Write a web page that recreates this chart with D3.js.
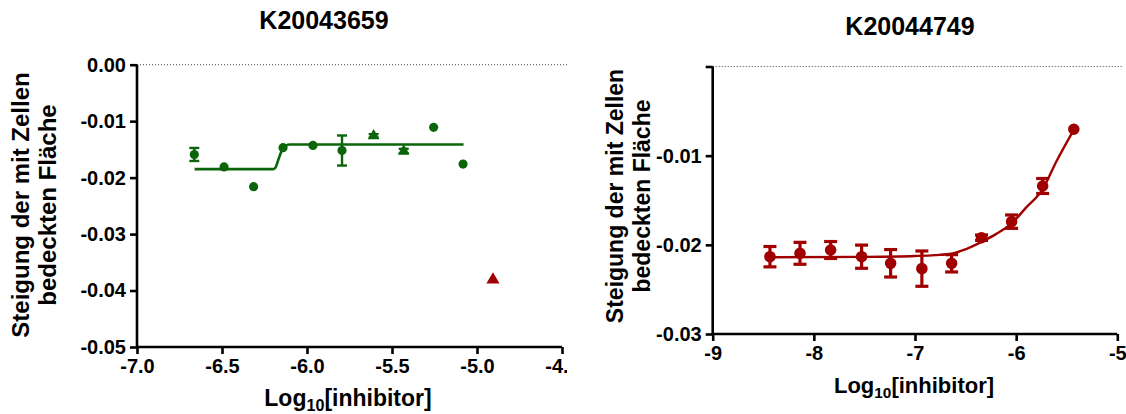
<!DOCTYPE html>
<html>
<head>
<meta charset="utf-8">
<script src="https://cdn.jsdelivr.net/npm/d3@7"></script>
<style>
  body { margin: 0; background: #fff; }
  svg { display: block; }
  text { font-family: Arial, "Liberation Sans", sans-serif; font-weight: bold; fill: #000; }
</style>
</head>
<body>
<div id="chart"></div>
<script>
// ---- data ----
// K20043659 (left)
const leftCircleX = [-6.663, -6.488, -6.314, -6.141, -5.965, -5.794, -5.255, -5.082];
const leftCircleY = [-0.0159, -0.0181, -0.0216, -0.0147, -0.0143, -0.0152, -0.0111, -0.0176];
const leftCircleErr = [0.00115, 0, 0, 0, 0, 0.00266, 0, 0];
const leftTriX = [-5.608, -5.431];
const leftTriY = [-0.0126, -0.0153];
const leftTriErr = [0.0003, 0.0004];
const leftOutX = [-4.906];
const leftOutY = [-0.0381];
const leftFitX = [-6.661, -6.20, -6.185, -6.165, -6.145, -6.125, -6.10, -5.079];
const leftFitY = [-0.0185, -0.0185, -0.0182, -0.0165, -0.0150, -0.01435, -0.01414, -0.01414];
const leftXTicks = [-7.0, -6.5, -6.0, -5.5, -5.0, -4.5];
const leftYTicks = [0, -0.01, -0.02, -0.03, -0.04, -0.05];

// K20044749 (right)
const rightX = [-8.434, -8.137, -7.834, -7.528, -7.241, -6.932, -6.638, -6.342, -6.045, -5.738, -5.43];
const rightY = [-0.02133, -0.02095, -0.02058, -0.02133, -0.02207, -0.02267, -0.02207, -0.0192, -0.0174, -0.0134, -0.00704];
const rightErr = [0.00114, 0.00123, 0.00095, 0.0013, 0.00154, 0.00198, 0.00097, 0.0003, 0.00075, 0.00084, 0];
const rightFitX = [-8.434, -7.5, -7.0, -6.8, -6.64, -6.5, -6.34, -6.2, -6.045, -5.9, -5.74, -5.6, -5.43];
const rightFitY = [-0.0214, -0.02135, -0.02125, -0.02115, -0.0210, -0.0205, -0.01965, -0.0188, -0.0176, -0.0158, -0.0138, -0.0106, -0.0071];
const rightXTicks = [-9, -8, -7, -6, -5];
const rightYTicks = [0, -0.01, -0.02, -0.03];

const green = "#0b660b", red = "#a00000";

const svg = d3.select("#chart").append("svg")
    .attr("width", 1126)
    .attr("height", 414);

svg.append("clipPath").attr("id", "leftClip")
    .append("rect").attr("x", 0).attr("y", 0).attr("width", 567).attr("height", 414);

function drawPanel(opt) {
    const g = svg.append("g");
    if (opt.clip) g.attr("clip-path", "url(#" + opt.clip + ")");

    // yRange is [top, bottom]
    const x = d3.scaleLinear().domain(opt.xDomain).range(opt.xRange);
    const y = d3.scaleLinear().domain(opt.yDomain).range(opt.yRange);
    const top = opt.yRange[0], bottom = opt.yRange[1];

    // dotted zero line
    g.append("line")
        .attr("x1", opt.xRange[0]).attr("x2", opt.xRange[1] + 6)
        .attr("y1", y(0)).attr("y2", y(0))
        .attr("stroke", "#444").attr("stroke-width", 1)
        .attr("stroke-dasharray", "1,2");

    // axes
    const yAxis = g.append("g")
        .attr("transform", "translate(" + opt.xRange[0] + ",0)")
        .call(d3.axisLeft(y).tickValues(opt.yTicks).tickSize(7).tickPadding(4)
            .tickFormat(d => (d === 0 && !opt.zeroLabel) ? "" : d.toFixed(2)));
    const xAxis = g.append("g")
        .attr("transform", "translate(0," + bottom + ")")
        .call(d3.axisBottom(x).tickValues(opt.xTicks).tickSize(7).tickPadding(5)
            .tickFormat(d => d.toFixed(opt.xDigits)));
    [yAxis, xAxis].forEach(a => {
        a.select(".domain").attr("stroke", "#000").attr("stroke-width", 2.6);
        a.selectAll(".tick line").attr("stroke", "#000").attr("stroke-width", 2.6);
        a.selectAll("text").attr("font-size", opt.tickSize)
            .attr("font-family", "Arial, 'Liberation Sans', sans-serif")
            .attr("font-weight", "bold").attr("fill", "#000");
    });
    yAxis.select(".domain").attr("d", "M0," + top + "V" + bottom);
    xAxis.select(".domain").attr("d", "M" + opt.xRange[0] + ",0H" + opt.xRange[1]);

    // fit curve
    const line = d3.line().x(d => x(d[0])).y(d => y(d[1])).curve(d3.curveMonotoneX);
    g.append("path")
        .datum(d3.zip(opt.fitX, opt.fitY))
        .attr("d", line)
        .attr("fill", "none").attr("stroke", opt.color).attr("stroke-width", opt.fitWidth);

    // error bars + markers
    opt.series.forEach(s => {
        const pts = s.x.map((v, i) => ({ x: v, y: s.y[i], e: s.err ? s.err[i] : 0 }));
        const eb = g.append("g").attr("stroke", s.color).attr("stroke-width", s.errWidth || 2.2);
        pts.filter(p => p.e > 0).forEach(p => {
            const cx = x(p.x), y1 = y(p.y + p.e), y2 = y(p.y - p.e), hw = s.cap / 2;
            eb.append("line").attr("x1", cx).attr("x2", cx).attr("y1", y1).attr("y2", y2);
            eb.append("line").attr("x1", cx - hw).attr("x2", cx + hw).attr("y1", y1).attr("y2", y1);
            eb.append("line").attr("x1", cx - hw).attr("x2", cx + hw).attr("y1", y2).attr("y2", y2);
        });
        g.append("g").selectAll("path")
            .data(pts)
            .join("path")
            .attr("transform", p => "translate(" + x(p.x) + "," + y(p.y) + ")")
            .attr("d", d3.symbol().type(s.shape).size(s.size))
            .attr("fill", s.color);
    });

    // titles
    g.append("text")
        .attr("x", opt.titleX).attr("y", opt.titleY)
        .attr("text-anchor", "middle").attr("font-size", opt.titleSize)
        .text(opt.title);

    const yl = g.append("text")
        .attr("transform", "translate(" + opt.yLabelX + "," + opt.yLabelY + ") rotate(-90)")
        .attr("text-anchor", "middle").attr("font-size", opt.yLabelSize);
    yl.append("tspan").attr("x", 0).attr("y", 0).text("Steigung der mit Zellen");
    yl.append("tspan").attr("x", 0).attr("y", opt.yLabelGap).text("bedeckten Fläche");

    const xl = g.append("text")
        .attr("x", opt.xLabelX).attr("y", opt.xLabelY)
        .attr("text-anchor", "middle").attr("font-size", opt.labelSize);
    xl.append("tspan").text("Log");
    xl.append("tspan").attr("font-size", opt.labelSize * 0.7).attr("dy", 5).text("10");
    xl.append("tspan").attr("dy", -5).text("[inhibitor]");
}

drawPanel({
    clip: "leftClip",
    xDomain: [-7, -4.5], xRange: [137, 562],
    yDomain: [0, -0.05], yRange: [64.7, 347],
    xTicks: leftXTicks, yTicks: leftYTicks, xDigits: 1, zeroLabel: true,
    tickSize: 20, color: green, fitWidth: 2.6,
    fitX: leftFitX, fitY: leftFitY,
    series: [
        { x: leftCircleX, y: leftCircleY, err: leftCircleErr, shape: d3.symbolCircle, size: 66, color: green, cap: 10, errWidth: 2.4 },
        { x: leftTriX, y: leftTriY, err: leftTriErr, shape: d3.symbolTriangle, size: 60, color: green, cap: 10, errWidth: 2.4 },
        { x: leftOutX, y: leftOutY, shape: d3.symbolTriangle, size: 75, color: red, cap: 0 }
    ],
    title: "K20043659", titleX: 324, titleY: 29, titleSize: 25,
    labelSize: 23, yLabelSize: 24, yLabelX: 29, yLabelY: 205, yLabelGap: 27,
    xLabelX: 348, xLabelY: 406
});

drawPanel({
    xDomain: [-9, -5], xRange: [712.7, 1117.3],
    yDomain: [0, -0.03], yRange: [66.5, 334],
    xTicks: rightXTicks, yTicks: rightYTicks, xDigits: 0, zeroLabel: false,
    tickSize: 20, color: red, fitWidth: 2.4,
    fitX: rightFitX, fitY: rightFitY,
    series: [
        { x: rightX, y: rightY, err: rightErr, shape: d3.symbolCircle, size: 105, color: red, cap: 13, errWidth: 3.2 }
    ],
    title: "K20044749", titleX: 910, titleY: 35, titleSize: 25,
    labelSize: 22, yLabelSize: 23, yLabelX: 623, yLabelY: 196, yLabelGap: 27,
    xLabelX: 914, xLabelY: 393
});
</script>
</body>
</html>
